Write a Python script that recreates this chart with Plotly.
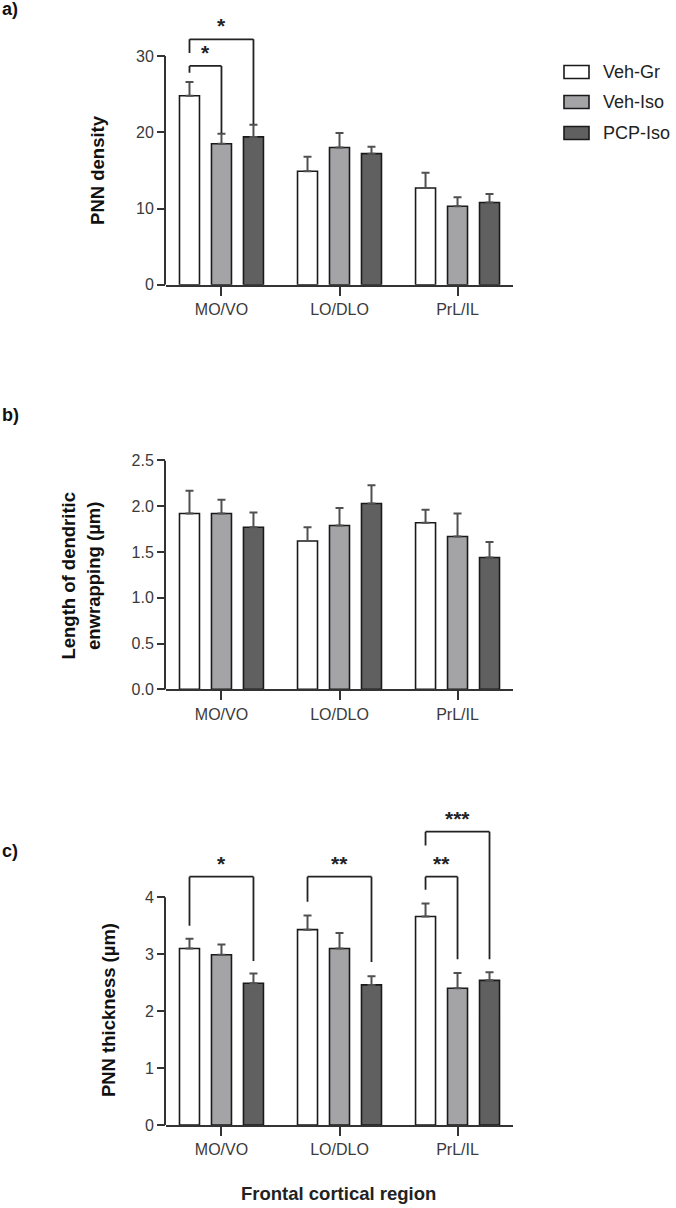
import plotly.graph_objects as go

# ---------------- data ----------------
regions = ["MO/VO", "LO/DLO", "PrL/IL"]
groups = ["Veh-Gr", "Veh-Iso", "PCP-Iso"]

# a) PNN density
density_vehgr = [24.8, 14.9, 12.7]
density_vehiso = [18.5, 18.0, 10.3]
density_pcpiso = [19.4, 17.2, 10.8]
density_vehgr_sem = [1.8, 1.9, 2.0]
density_vehiso_sem = [1.3, 1.9, 1.2]
density_pcpiso_sem = [1.6, 0.9, 1.1]

# b) Length of dendritic enwrapping (µm)
length_vehgr = [1.92, 1.62, 1.82]
length_vehiso = [1.92, 1.79, 1.67]
length_pcpiso = [1.77, 2.03, 1.44]
length_vehgr_sem = [0.25, 0.15, 0.14]
length_vehiso_sem = [0.15, 0.19, 0.25]
length_pcpiso_sem = [0.16, 0.20, 0.17]

# c) PNN thickness (µm)
thick_vehgr = [3.10, 3.43, 3.66]
thick_vehiso = [2.99, 3.10, 2.40]
thick_pcpiso = [2.49, 2.46, 2.54]
thick_vehgr_sem = [0.17, 0.25, 0.23]
thick_vehiso_sem = [0.18, 0.27, 0.27]
thick_pcpiso_sem = [0.17, 0.15, 0.14]

# significance brackets: (region index, bar from, bar to, height, left leg end, right leg end, label)
density_sig = [(0, 0, 1, 28.7, 27.8, 19.9, "*"), (0, 0, 2, 32.2, 30.4, 21.1, "*")]
length_sig = []
thick_sig = [(0, 0, 2, 4.36, 3.50, 2.88, "*"), (1, 0, 2, 4.36, 3.92, 2.86, "**"),
             (2, 0, 1, 4.36, 4.13, 2.91, "**"), (2, 0, 2, 5.15, 4.91, 2.91, "***")]

a_ticks = [0, 10, 20, 30]
b_ticks = [0.0, 0.5, 1.0, 1.5, 2.0, 2.5]
c_ticks = [0, 1, 2, 3, 4]

# ---------------- styling ----------------
W, H = 676, 1208
colors = ["#ffffff", "#a4a4a7", "#606060"]
AX = "#333333"
FONT = "Liberation Sans, Arial, sans-serif"
BARGAP, GROUPGAP = 0.187, 0.375
slot = (1 - BARGAP) / 3
VSCALE = 1208 / 1224  # vertical compression observed in the rendered page

x_left_px, x_right_px = 166, 513
xdom = [x_left_px / W, x_right_px / W]


def py(p):
    # convert a target pixel row into paper coordinates (compensating compression)
    f = H / 2 + (p - H / 2) / VSCALE
    return 1 - f / H


panels = [
    dict(means=[density_vehgr, density_vehiso, density_pcpiso],
         sems=[density_vehgr_sem, density_vehiso_sem, density_pcpiso_sem],
         zero_px=285, unit_px=7.633, ymax=36, ticks=a_ticks, fmt="{:.0f}",
         sig=density_sig),
    dict(means=[length_vehgr, length_vehiso, length_pcpiso],
         sems=[length_vehgr_sem, length_vehiso_sem, length_pcpiso_sem],
         zero_px=690, unit_px=91.7, ymax=2.5, ticks=b_ticks, fmt="{:.1f}",
         sig=length_sig),
    dict(means=[thick_vehgr, thick_vehiso, thick_pcpiso],
         sems=[thick_vehgr_sem, thick_vehiso_sem, thick_pcpiso_sem],
         zero_px=1126, unit_px=57.0, ymax=5.8, ticks=c_ticks, fmt="{:.0f}",
         sig=thick_sig),
]

fig = go.Figure()
layout = dict(width=W, height=H, margin=dict(l=0, r=0, t=0, b=0), autosize=False,
              paper_bgcolor="white", plot_bgcolor="white", showlegend=False,
              barmode="group", bargap=BARGAP, bargroupgap=GROUPGAP,
              font=dict(family=FONT, color="#222"))
shapes, annotations = [], []

for i, p in enumerate(panels):
    n = "" if i == 0 else str(i + 1)
    xa, ya = "x" + n, "y" + n
    for k in range(3):
        fig.add_trace(go.Bar(
            x=regions, y=p["means"][k], name=groups[k], xaxis=xa, yaxis=ya,
            marker=dict(color=colors[k], line=dict(color="#1a1a1a", width=1.6)),
            error_y=dict(type="data", symmetric=False, array=p["sems"][k],
                         arrayminus=[0] * 3, color="#505050", thickness=2, width=4),
        ))
    top_px = p["zero_px"] - p["ymax"] * p["unit_px"]
    layout["xaxis" + n] = dict(
        domain=xdom, anchor=ya, range=[-0.47, 2.47], showgrid=False, zeroline=False,
        showline=True, linecolor=AX, linewidth=2, ticks="outside", ticklen=9,
        tickwidth=2, tickcolor=AX, tickfont=dict(size=16, color="#3a3a3a", family=FONT))
    layout["yaxis" + n] = dict(
        domain=[py(p["zero_px"]), py(top_px)], anchor=xa, range=[0, p["ymax"]],
        showgrid=False, zeroline=False, showline=False, ticks="outside", ticklen=8,
        tickwidth=2, tickcolor=AX, tickvals=p["ticks"],
        ticktext=[p["fmt"].format(t) for t in p["ticks"]],
        tickfont=dict(size=16, color="#3a3a3a", family=FONT))
    # y axis line only up to the last tick
    shapes.append(dict(type="line", xref="paper", yref=ya,
                       x0=(x_left_px - 1) / W, x1=(x_left_px - 1) / W,
                       y0=0, y1=p["ticks"][-1], line=dict(color=AX, width=2)))
    # significance brackets
    for (g, b0, b1, h, lb, rb, lab) in p["sig"]:
        xa0 = g + (b0 - 1) * slot
        xa1 = g + (b1 - 1) * slot
        for (x0, y0, x1, y1) in [(xa0, lb, xa0, h), (xa0, h, xa1, h), (xa1, h, xa1, rb)]:
            shapes.append(dict(type="line", xref=xa, yref=ya, x0=x0, y0=y0, x1=x1, y1=y1,
                               line=dict(color="#222", width=1.8)))
        annotations.append(dict(xref=xa, yref=ya, x=(xa0 + xa1) / 2, y=h,
                                text="<b>" + lab + "</b>",
                                showarrow=False, yanchor="bottom", yshift=0,
                                font=dict(size=21, color="#222", family=FONT)))

# panel letters
for lab, ypx in [("a)", 9), ("b)", 415), ("c)", 852)]:
    annotations.append(dict(xref="paper", yref="paper", x=0, y=py(ypx), text="<b>" + lab + "</b>",
                            showarrow=False, xanchor="left", yanchor="middle",
                            font=dict(size=18, color="#111", family=FONT)))

# y titles
for txt, xpx, ypx in [("PNN density", 98, 170),
                      ("Length of dendritic<br>enwrapping (µm)", 81, 576),
                      ("PNN thickness (µm)", 108, 1011)]:
    annotations.append(dict(xref="paper", yref="paper", x=xpx / W, y=py(ypx),
                            text="<b>" + txt + "</b>", textangle=-90, showarrow=False,
                            xanchor="center", yanchor="middle",
                            font=dict(size=18.5, color="#111", family=FONT)))

# x title
annotations.append(dict(xref="paper", yref="paper", x=338 / W, y=py(1195),
                        text="<b>Frontal cortical region</b>", showarrow=False,
                        xanchor="center", yanchor="middle",
                        font=dict(size=18.5, color="#222", family=FONT)))

# legend
for k, (g, ypx) in enumerate(zip(groups, [72, 102, 133])):
    shapes.append(dict(type="rect", xref="paper", yref="paper",
                       x0=564 / W, x1=589 / W, y0=py(ypx + 6.5), y1=py(ypx - 6.5),
                       fillcolor=colors[k], line=dict(color="#1a1a1a", width=1.6)))
    annotations.append(dict(xref="paper", yref="paper", x=601 / W, y=py(ypx), text=g,
                            showarrow=False, xanchor="left", yanchor="middle",
                            font=dict(size=18, color="#222", family=FONT)))

layout["shapes"] = shapes
layout["annotations"] = annotations
fig.update_layout(**layout)
fig.write_html("out.html")
